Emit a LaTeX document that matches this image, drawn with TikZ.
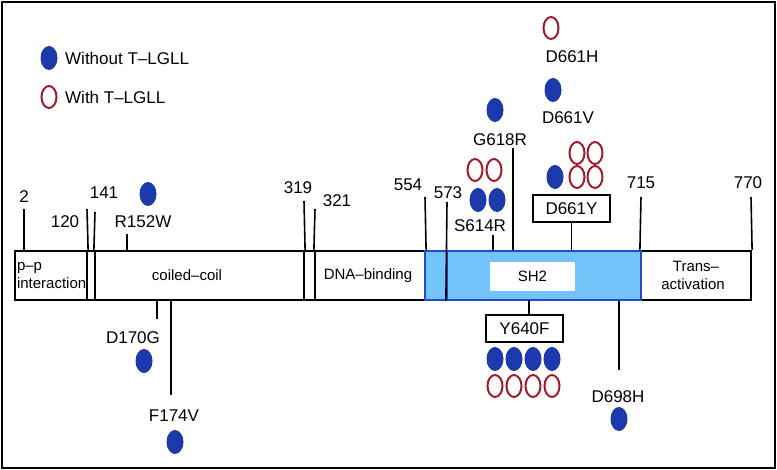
\documentclass[tikz,border=0pt]{standalone}
\usepackage{fontspec}
\setmainfont{Liberation Sans}
\usetikzlibrary{shapes.geometric}

\definecolor{dotblue}{RGB}{28,58,172}
\definecolor{dotred}{RGB}{165,25,45}
\definecolor{shblue}{RGB}{115,196,250}
\definecolor{rimblue}{RGB}{35,75,200}

\begin{document}
\begin{tikzpicture}[x=1pt,y=-1pt,
                    dombox/.style={draw, line width=2.2pt, rectangle, minimum height=49pt, inner sep=0pt, font=\fontsize{15}{18}\selectfont},
                    shbox/.style={dombox, fill=shblue, draw=rimblue},
                    num/.style={font=\fontsize{17}{19}\selectfont, inner sep=0pt},
                    mutbox/.style={num, draw, line width=2pt, minimum width=77pt, minimum height=27pt},
                    wo/.style={ellipse, fill=dotblue, minimum width=17pt, minimum height=24pt, inner sep=0pt},
                    wi/.style={ellipse, draw=dotred, line width=2pt, minimum width=15pt, minimum height=22pt, inner sep=0pt},
                    tick/.style={line width=1.6pt}]

	\useasboundingbox (0,0) rectangle (777,470);
	\draw[line width=2.5pt] (2,2) rectangle (775,468);

	% legend
	\node[wo] (keyWo) at (49,58) {};
	\node[num, anchor=west] (keyWoText) at (65,58) {Without T--LGLL};
	\node[wi] (keyWi) at (49,97) {};
	\node[num, anchor=west] (keyWiText) at (65,97) {With T--LGLL};

	% domains
	\node[dombox, minimum width=72pt, text width=68pt, align=left] (pp) at (51,275.5) {p--p\\interaction};
	\node[dombox, minimum width=8pt] (link1) at (91,275.5) {};
	\node[dombox, minimum width=209pt] (cc) at (199.5,275.5) {coiled--coil\hspace*{25pt}};
	\node[dombox, minimum width=110pt] (dna) at (370,275.5) {DNA--binding\hspace*{4pt}};
	\node[dombox, minimum width=11pt] (link2) at (309.5,275.5) {};
	\node[dombox, minimum width=110pt, align=center] (ta) at (696,275.5) {Trans--\\activation\hspace*{6pt}};
	\node[shbox, minimum width=22pt] (link3) at (436,275.5) {};
	\node[shbox, minimum width=194pt] (sh2) at (544,275.5) {};
	\node[fill=white, minimum width=85pt, minimum height=29pt, inner sep=0pt, font=\fontsize{15}{18}\selectfont] (sh2name) at (532.5,276.5) {SH2};

	% positions
	\node[num] (n2) at (24,197) {2};
	\node[num] (n120) at (65,222) {120};
	\node[num] (n141) at (104,193) {141};
	\node[num] (n319) at (298,188) {319};
	\node[num] (n321) at (337,201) {321};
	\node[num] (n554) at (408,185) {554};
	\node[num] (n573) at (448,193) {573};
	\node[num] (n715) at (641,183) {715};
	\node[num] (n770) at (748,183) {770};

	\coordinate (t2) at (24,209);
	\coordinate (t120) at (87,209);
	\coordinate (t141) at (95,212);
	\coordinate (t319) at (304,201);
	\coordinate (t321) at (315,209);
	\coordinate (t554) at (425,197);
	\coordinate (t573) at (447,202);
	\coordinate (t715) at (641,197);
	\coordinate (t770) at (751,197);

	\draw[tick] (t2) -- (t2 |- pp.north);
	\draw[tick] (t120) -- (pp.north east);
	\draw[tick] (t141) -- (cc.north west);
	\draw[tick] (t319) -- (cc.north east);
	\draw[tick] (t321) -- (dna.north west);
	\draw[tick] (t554) -- (dna.north east);
	\draw[tick] (t573) -- (sh2.south west);
	\draw[tick] (t715) -- (ta.north west);
	\draw[tick] (t770) -- (ta.north east);

	% mutations above the bar
	\node[num] (R152W) at (143,222) {R152W};
	\node[wo] (R152Wa) at (148,194) {};
	\coordinate (m152) at (127,234);
	\draw[tick] (m152) -- (m152 |- cc.north);

	\node[num] (S614R) at (480,226) {S614R};
	\node[wo] (S614Ra) at (478,200) {};
	\node[wo] (S614Rb) at (497,200) {};
	\node[wi] (S614Rc) at (475,170) {};
	\node[wi] (S614Rd) at (494,170) {};
	\coordinate (m614) at (493,235);
	\draw[tick] (m614) -- (m614 |- sh2.north);

	\node[num] (G618R) at (500,140) {G618R};
	\node[wo] (G618Ra) at (495,110) {};
	\coordinate (m618) at (513,148);
	\draw[tick] (m618) -- (m618 |- sh2.north);

	\node[mutbox] (D661Y) at (571.5,208.5) {D661Y};
	\node[wo] (D661Ya) at (555,177) {};
	\node[wi] (D661Yb) at (577,153) {};
	\node[wi] (D661Yc) at (595,153) {};
	\node[wi] (D661Yd) at (577,177) {};
	\node[wi] (D661Ye) at (595,177) {};
	\draw[tick] (D661Y.south) -- (D661Y.south |- sh2.north);

	\node[num] (D661V) at (568,118) {D661V};
	\node[wo] (D661Va) at (553,90) {};

	\node[num] (D661H) at (572,57) {D661H};
	\node[wi] (D661Ha) at (551,28) {};

	% mutations below the bar
	\node[num] (D170G) at (133,338) {D170G};
	\node[wo] (D170Ga) at (144,361) {};
	\coordinate (m170) at (157,319);
	\draw[tick] (cc.south -| m170) -- (m170);

	\node[num] (F174V) at (174,416) {F174V};
	\node[wo] (F174Va) at (175,442) {};
	\coordinate (m174) at (171,395);
	\draw[tick] (cc.south -| m174) -- (m174);

	\node[mutbox] (Y640F) at (524.5,329) {Y640F};
	\node[wo] (Y640Fa) at (495,359) {};
	\node[wo] (Y640Fb) at (514,359) {};
	\node[wo] (Y640Fc) at (533,359) {};
	\node[wo] (Y640Fd) at (552,359) {};
	\node[wi] (Y640Fe) at (495,386) {};
	\node[wi] (Y640Ff) at (514,386) {};
	\node[wi] (Y640Fg) at (533,386) {};
	\node[wi] (Y640Fh) at (552,386) {};
	\coordinate (m640) at (529,300);
	\draw[tick] (m640) -- (m640 |- Y640F.north);

	\node[num] (D698H) at (618,397) {D698H};
	\node[wo] (D698Ha) at (619,419) {};
	\coordinate (m698) at (619,370);
	\draw[tick] (sh2.south -| m698) -- (m698);

\end{tikzpicture}
\end{document}
